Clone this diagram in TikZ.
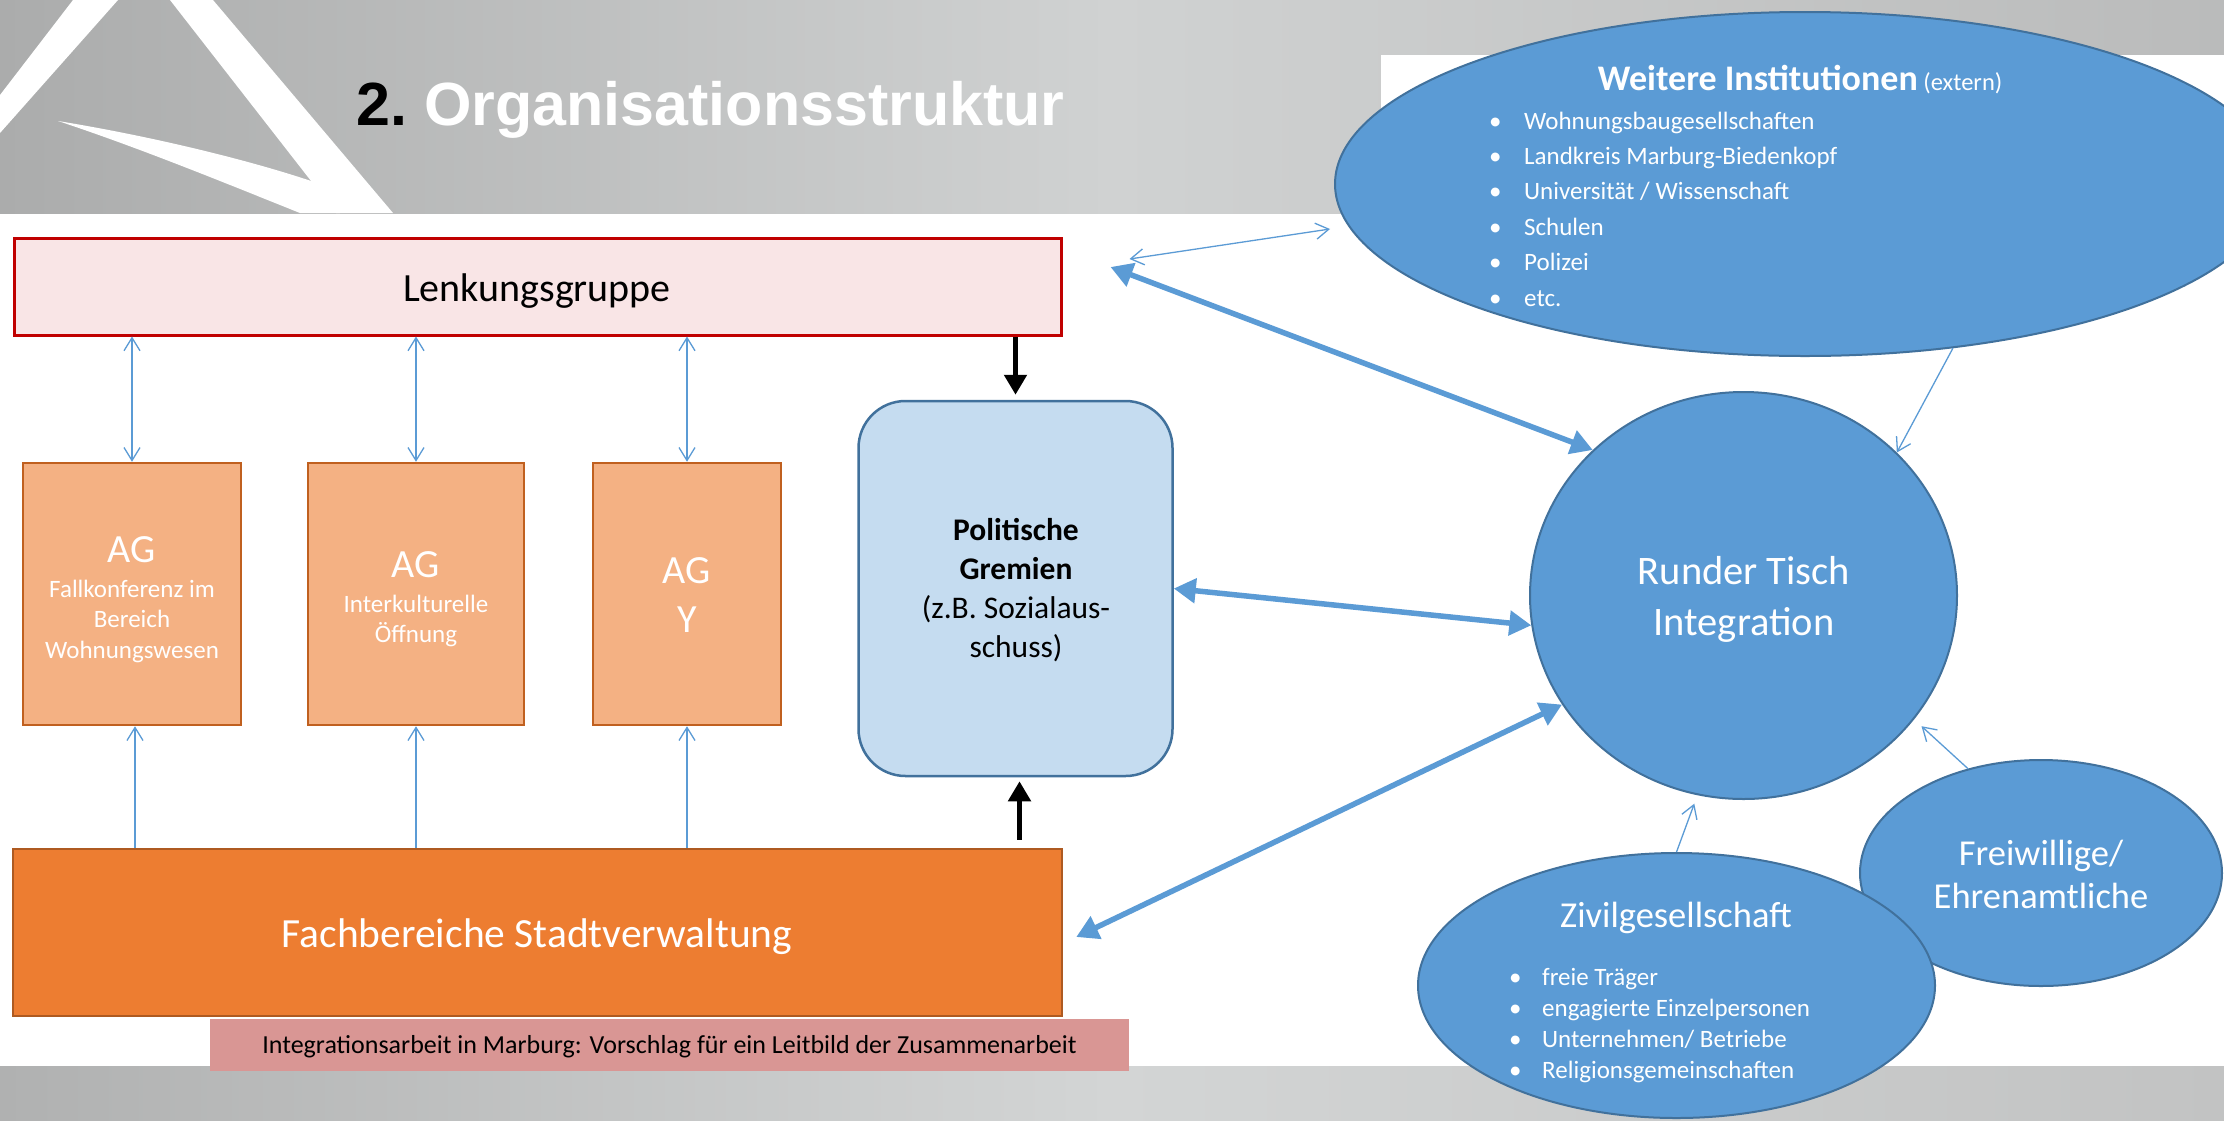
\documentclass[tikz,border=0pt]{standalone}
\usepackage{fontspec}
\setmainfont{Carlito}
\newfontfamily\arialfont{Liberation Sans}
\usetikzlibrary{arrows.meta,shapes.geometric}
\definecolor{bluefill}{HTML}{5B9BD5}
\definecolor{blueline}{HTML}{41719C}
\definecolor{lenkfill}{HTML}{F9E5E6}
\definecolor{lenkline}{HTML}{C00000}
\definecolor{agfill}{HTML}{F4B183}
\definecolor{agline}{HTML}{C0601F}
\definecolor{polfill}{HTML}{C5DCF0}
\definecolor{fachfill}{HTML}{ED7D31}
\definecolor{fachline}{HTML}{AE5A21}
\definecolor{capfill}{HTML}{D99694}
\definecolor{hdrdark}{HTML}{ABACAC}
\definecolor{hdrlight}{HTML}{D0D2D2}
\definecolor{hdrright}{HTML}{BABBBB}
\definecolor{ftrdark}{HTML}{B0B1B1}
\definecolor{ftrlight}{HTML}{D3D5D5}
\definecolor{ftrright}{HTML}{C2C3C3}
\newcommand\setfs[1]{\fontsize{#1}{#1}\selectfont}
\begin{document}
\begin{tikzpicture}[x=1pt,y=-1pt,
  lenkbox/.style={draw=lenkline, fill=lenkfill, line width=3pt, rectangle, inner sep=0pt},
  agbox/.style={draw=agline, fill=agfill, line width=2.5pt, rectangle, inner sep=0pt, minimum height=262pt},
  polbox/.style={draw=blueline, fill=polfill, line width=2.5pt, rectangle, rounded corners=47pt, inner sep=0pt},
  fachbox/.style={draw=fachline, fill=fachfill, line width=2.5pt, rectangle, inner sep=0pt},
  capbox/.style={fill=capfill, rectangle, inner sep=0pt},
  blob/.style={ellipse, draw=blueline, fill=bluefill, line width=2pt, inner sep=0pt},
  txt/.style={inner sep=0pt, anchor=base},
  wtxt/.style={txt, text=white},
  litem/.style={inner sep=0pt, anchor=base west, text=white, font=\setfs{25}},
  thinboth/.style={draw=bluefill, line width=1.3pt, arrows={Straight Barb[length=13pt,width=16pt]-Straight Barb[length=13pt,width=16pt]}},
  thinone/.style={draw=bluefill, line width=1.3pt, arrows={-Straight Barb[length=13pt,width=16pt]}},
  thickboth/.style={draw=bluefill, line width=5.5pt, arrows={Triangle[length=22pt,width=24pt]-Triangle[length=22pt,width=24pt]}},
  blackarrow/.style={draw=black, line width=5pt, arrows={-Triangle[length=20pt,width=22pt]}}
]
\useasboundingbox (0,0) rectangle (2224,1120);
\clip (0,0) rectangle (2224,1120);
\fill[white] (0,0) rectangle (2224,1120);
% header band
\shade[left color=hdrdark, right color=hdrright, middle color=hdrlight] (0,0) rectangle (2224,213);
% logo
\fill[white] (73,0) -- (118,0) -- (0,133) -- (0,95) -- cycle;
\fill[white] (170,0) -- (213,0) -- (393,213) -- (336,213) -- cycle;
\fill[white] (58,121) .. controls (150,136) and (250,160) .. (317,183) -- (340,213) -- (300,213)
  .. controls (230,185) and (140,148) .. (58,121) -- cycle;
% title
\node[inner sep=0pt, anchor=base west] (title) at (356,125)
  {\arialfont\bfseries\setfs{61}2.\ \textcolor{white}{Organisationsstruktur}};
% white panel top right
\fill[white] (1381,55) rectangle (2224,213);
% footer band
\shade[left color=ftrdark, right color=ftrright, middle color=ftrlight] (0,1066) rectangle (2224,1120);

% boxes
\node[lenkbox, minimum width=1047pt, minimum height=97pt] (lenk) at (537.5,286.5) {};
\node[txt, font=\setfs{40}] (lenkt) at (537,301) {Lenkungsgruppe};

\node[agbox, minimum width=218pt] (ag1) at (132,594) {};
\node[agbox, minimum width=216pt] (ag2) at (416,594) {};
\node[agbox, minimum width=188pt] (ag3) at (687,594) {};
\node[wtxt, font=\setfs{40}] (ag1a) at (132,562) {AG};
\node[wtxt, font=\setfs{25}] (ag1b) at (132,597) {Fallkonferenz im};
\node[wtxt, font=\setfs{25}] (ag1c) at (132,627) {Bereich};
\node[wtxt, font=\setfs{25}] (ag1d) at (132,658) {Wohnungswesen};
\node[wtxt, font=\setfs{40}] (ag2a) at (416,577) {AG};
\node[wtxt, font=\setfs{25}] (ag2b) at (416,612) {Interkulturelle};
\node[wtxt, font=\setfs{25}] (ag2c) at (416,642) {Öffnung};
\node[wtxt, font=\setfs{40}] (ag3a) at (687,583) {AG};
\node[wtxt, font=\setfs{40}] (ag3b) at (687,632) {Y};

\node[polbox, minimum width=314pt, minimum height=375pt] (pol) at (1015.5,588.5) {};
\node[txt, font=\bfseries\setfs{31.5}] (pola) at (1016,540) {Politische};
\node[txt, font=\bfseries\setfs{31.5}] (polb) at (1016,579) {Gremien};
\node[txt, font=\setfs{31.5}] (polc) at (1016,618) {(z.B. Sozialaus-};
\node[txt, font=\setfs{31.5}] (pold) at (1016,657) {schuss)};

\node[fachbox, minimum width=1049pt, minimum height=167pt] (fach) at (537.5,932.5) {};
\node[wtxt, font=\setfs{41.5}] (facht) at (537,947) {Fachbereiche Stadtverwaltung};

\node[capbox, minimum width=919pt, minimum height=52pt] (cap) at (669.5,1045) {};
\node[txt, font=\setfs{26}] (capt) at (669.5,1053) {Integrationsarbeit in Marburg: Vorschlag für ein Leitbild der Zusammenarbeit};

% ellipses
\node[blob, minimum width=940pt, minimum height=344pt] (weitere) at (1805,184) {};
\node[wtxt] (weiteret) at (1800,90) {{\bfseries\setfs{36}Weitere Institutionen}{\setfs{24.5} (extern)}};
\foreach \t [count=\i] in {Wohnungsbaugesellschaften, Landkreis Marburg-Biedenkopf, Universität / Wissenschaft, Schulen, Polizei, etc.} {
  \node[litem] (wi\i) at (1489, 129+35.4*\i-35.4) {\makebox[35pt][l]{•}\t};
}

\node[blob, minimum width=427pt, minimum height=407pt] (runder) at (1743.5,595.5) {};
\node[wtxt, font=\setfs{40.5}] (rundera) at (1744,584) {Runder Tisch};
\node[wtxt, font=\setfs{40.5}] (runderb) at (1744,635) {Integration};

\node[blob, minimum width=362pt, minimum height=226pt] (frei) at (2041,873) {};
\node[wtxt, font=\setfs{36.5}] (freia) at (2041,865) {Freiwillige/};
\node[wtxt, font=\setfs{36.5}] (freib) at (2041,908.5) {Ehrenamtliche};

\node[blob, minimum width=517pt, minimum height=265pt] (zivil) at (1676.5,985.5) {};
\node[wtxt, font=\setfs{36.5}] (zivilt) at (1676,927.5) {Zivilgesellschaft};
\foreach \t [count=\i] in {freie Träger, engagierte Einzelpersonen, Unternehmen/ Betriebe, Religionsgemeinschaften} {
  \node[litem] (zi\i) at (1509, 985+31.3*\i-31.3) {\makebox[33pt][l]{•}\t};
}

% connectors: Lenkungsgruppe <-> AG
\draw[thinboth] (lenk.south -| ag1.north) -- (ag1.north);
\draw[thinboth] (lenk.south -| ag2.north) -- (ag2.north);
\draw[thinboth] (lenk.south -| ag3.north) -- (ag3.north);
% Fachbereiche -> AG
\draw[thinone] ([xshift=3pt]fach.north -| ag1.south) -- ([xshift=3pt]ag1.south);
\draw[thinone] (fach.north -| ag2.south) -- (ag2.south);
\draw[thinone] (fach.north -| ag3.south) -- (ag3.south);
% black arrows
\draw[blackarrow] (lenk.south -| pol.north) -- ([yshift=5pt]pol.north);
\draw[blackarrow] ([shift={(4pt,8pt)}]fach.north -| pol.south) -- ([shift={(4pt,-4pt)}]pol.south);
% thick arrows
\draw[thickboth] ([shift={(48,-19.5)}]lenk.east) -- (runder.136.4);
\draw[thickboth] (pol.east) -- (runder.188);
\draw[thickboth] ([shift={(13,4.5)}]fach.east) -- (runder.211.7);
% thin arrows
\draw[thinboth] ([shift={(67,-27.5)}]lenk.east) -- ([shift={(-4,45)}]weitere.west);
\draw[thinone] (weitere.-48) -- (runder.43.8);
\draw[thinone, shorten >=10pt] (frei.125) -- (runder.-36.6);
\draw[thinone, shorten >=9pt] (zivil.north) -- (runder.-103);
\end{tikzpicture}
\end{document}
